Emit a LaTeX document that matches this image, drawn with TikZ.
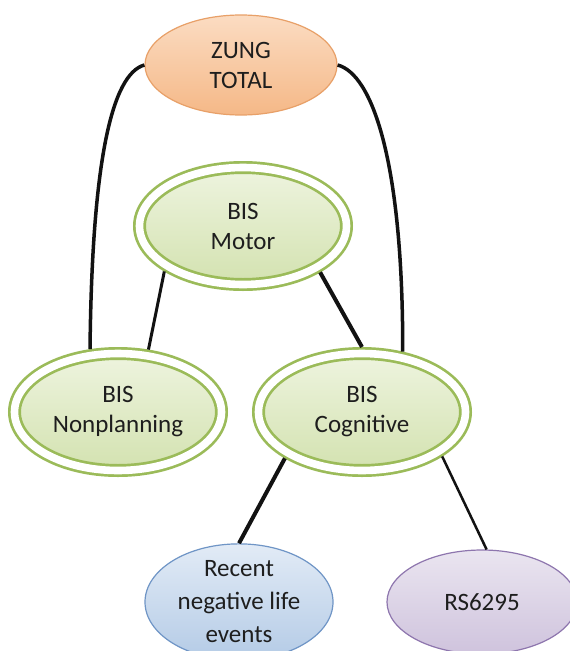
\documentclass[tikz,border=0pt]{standalone}
\usepackage{xcolor}
\usepackage{tikz}
\usetikzlibrary{shapes.geometric}
\usepackage{fontspec}
\setmainfont{Carlito}

\definecolor{txtgray}{HTML}{1E1E1E}
\definecolor{zungline}{HTML}{E8A068}
\definecolor{zungtop}{HTML}{FBDCC2}
\definecolor{zungbot}{HTML}{F5B887}
\definecolor{bisgreen}{HTML}{9BBB59}
\definecolor{bistop}{HTML}{EEF4DF}
\definecolor{bisbot}{HTML}{D3E2B0}
\definecolor{lifeline}{HTML}{6F95C6}
\definecolor{lifetop}{HTML}{E2EBF6}
\definecolor{lifebot}{HTML}{B4CBE6}
\definecolor{rsline}{HTML}{8E76AE}
\definecolor{rstop}{HTML}{EAE5F0}
\definecolor{rsbot}{HTML}{CFC3DD}

\begin{document}
\begin{tikzpicture}[x=1pt, y=-1pt,
    every node/.style={ellipse, align=center, inner sep=0pt, text=txtgray,
        font=\fontsize{25}{30}\selectfont},
    zungnode/.style={draw=zungline, line width=1.2pt, top color=zungtop, bottom color=zungbot,
        minimum width=192pt, minimum height=100pt},
    bisnode/.style={draw=bisgreen, line width=2.7pt, double=white, double distance=7.6pt,
        top color=bistop, bottom color=bisbot, minimum width=207pt, minimum height=117pt, outer sep=6.5pt},
    lifenode/.style={draw=lifeline, line width=1.2pt, top color=lifetop, bottom color=lifebot,
        minimum width=188pt, minimum height=104pt, font=\fontsize{25}{33}\selectfont},
    rsnode/.style={draw=rsline, line width=1.2pt, top color=rstop, bottom color=rsbot,
        minimum width=190pt, minimum height=104pt},
    link/.style={draw=black!93}]
    \clip (0,0) rectangle (570,651);
    \fill[white] (0,0) rectangle (570,651);

    \node[zungnode] (zung) at (241,65) {ZUNG\\TOTAL};
    \node[bisnode] (motor) at (243,226) {BIS\\Motor};
    \node[bisnode] (np) at (118,412) {BIS\\Nonplanning};
    \node[bisnode] (cog) at (362,412) {BIS\\Cognitive};
    \node[lifenode] (life) at (239,602) {Recent\\negative life\\events};
    \node[rsnode] (rs) at (482,602) {RS6295};

    \draw[link, line width=3.5pt] (zung.west) .. controls (112,74) and (92,160) .. (np.114);
    \draw[link, line width=3.5pt] (zung.east) .. controls (372,74) and (403,160) .. (cog.56);
    \draw[link, line width=3pt] (motor.210) -- (np.64);
    \draw[link, line width=4pt] (motor.329) -- (cog.north);
    \draw[link, line width=4pt] (cog.211) -- (life.north);
    \draw[link, line width=2.5pt] (cog.331) -- (rs.85);
\end{tikzpicture}
\end{document}
